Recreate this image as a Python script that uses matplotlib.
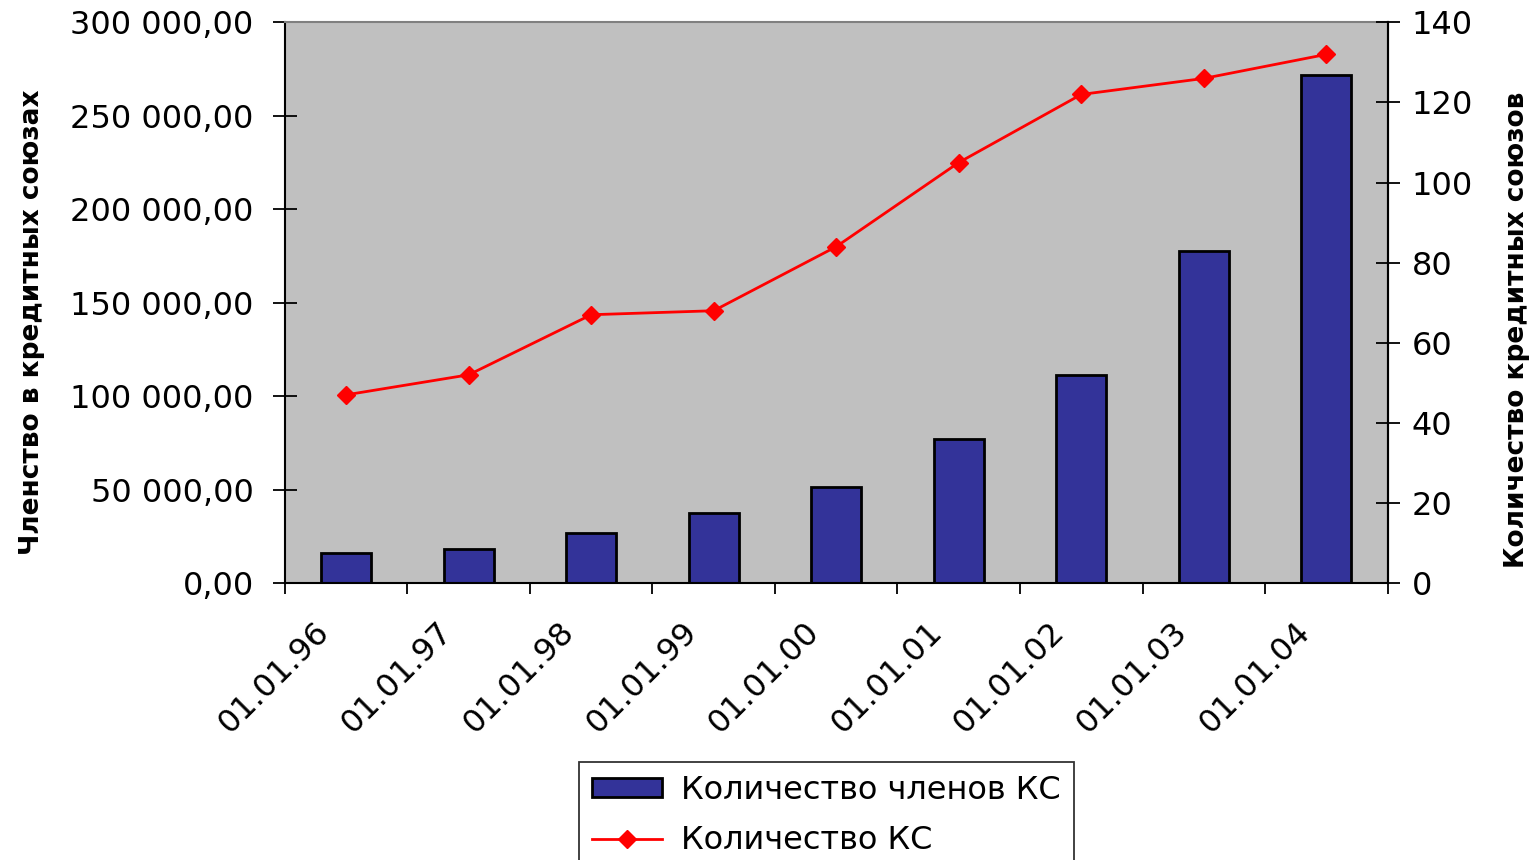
import numpy as np
import matplotlib
matplotlib.use('Agg')
import matplotlib.pyplot as plt
import matplotlib.transforms as mtrans
from matplotlib.ticker import FuncFormatter, FixedLocator

plt.rcParams['font.family'] = ['DejaVu Sans']

# data
dates = ['01.01.96', '01.01.97', '01.01.98', '01.01.99', '01.01.00',
         '01.01.01', '01.01.02', '01.01.03', '01.01.04']
members = [16000, 18200, 26700, 37400, 51300, 77000, 111200, 177500, 271700]
unions = [47, 52, 67, 68, 84, 105, 122, 126, 132]


def rus_fmt(v, pos):
    s = '{:,.2f}'.format(v)
    return s.replace(',', ' ').replace('.', ',')


fig = plt.figure(figsize=(15.4, 8.6), dpi=100)
ax = fig.add_axes([0.185, 0.322, 0.716, 0.652])
ax.set_facecolor('#C0C0C0')

x = np.arange(len(dates))
bars = ax.bar(x, members, width=0.41, color='#333399', edgecolor='black',
              linewidth=2, label='Количество членов КС', zorder=2)
ax.set_xlim(-0.5, len(dates) - 0.5)
ax.set_ylim(0, 300000)
ax.set_yticks(np.arange(0, 300001, 50000))
ax.yaxis.set_major_formatter(FuncFormatter(rus_fmt))
ax.tick_params(axis='y', direction='inout', length=17, width=1.3,
               labelsize=23, pad=14)

ax.set_xticks(x)
ax.set_xticklabels(dates, rotation=45, ha='right', va='top',
                   rotation_mode='anchor', fontsize=23)
ax.tick_params(axis='x', which='major', length=0, pad=24)
# move labels a bit to the left like in the original
shift = mtrans.ScaledTranslation(-32 / 100, 0, fig.dpi_scale_trans)
for lab in ax.get_xticklabels():
    lab.set_transform(lab.get_transform() + shift)
ax.xaxis.set_minor_locator(FixedLocator(np.arange(-0.5, len(dates), 1.0)))
ax.tick_params(axis='x', which='minor', direction='out', length=8, width=1.3)

ax.set_ylabel('Членство в кредитных союзах', fontsize=19, fontweight='bold')
ax.yaxis.set_label_coords(-0.2176, 0.465)

for side in ['left', 'bottom', 'right']:
    ax.spines[side].set_color('black')
    ax.spines[side].set_linewidth(1.5)
ax.spines['top'].set_color('#808080')
ax.spines['top'].set_linewidth(1.5)

ax2 = ax.twinx()
line, = ax2.plot(x, unions, color='#FF0000', linewidth=2, marker='D',
                 markersize=9, label='Количество КС', zorder=3)
ax2.set_ylim(0, 140)
ax2.set_yticks(np.arange(0, 141, 20))
ax2.tick_params(axis='y', direction='inout', length=17, width=1.3,
                labelsize=23, pad=9)
ax2.set_ylabel('Количество кредитных союзов', fontsize=19, fontweight='bold')
ax2.yaxis.set_label_coords(1.106, 0.451)
ax2.spines['top'].set_visible(False)
ax2.spines['left'].set_visible(False)
ax2.spines['bottom'].set_visible(False)
ax2.spines['right'].set_color('black')
ax2.spines['right'].set_linewidth(1.5)

leg = fig.legend([bars, line], ['Количество членов КС', 'Количество КС'],
                 loc='upper left', bbox_to_anchor=(0.376, 0.114),
                 fontsize=23, frameon=True, fancybox=False, edgecolor='black',
                 handlelength=2.2, handleheight=0.5, borderpad=0.4,
                 labelspacing=0.6, handletextpad=0.6, borderaxespad=0)
leg.get_frame().set_linewidth(1.3)

fig.savefig('out.png', dpi=100)
